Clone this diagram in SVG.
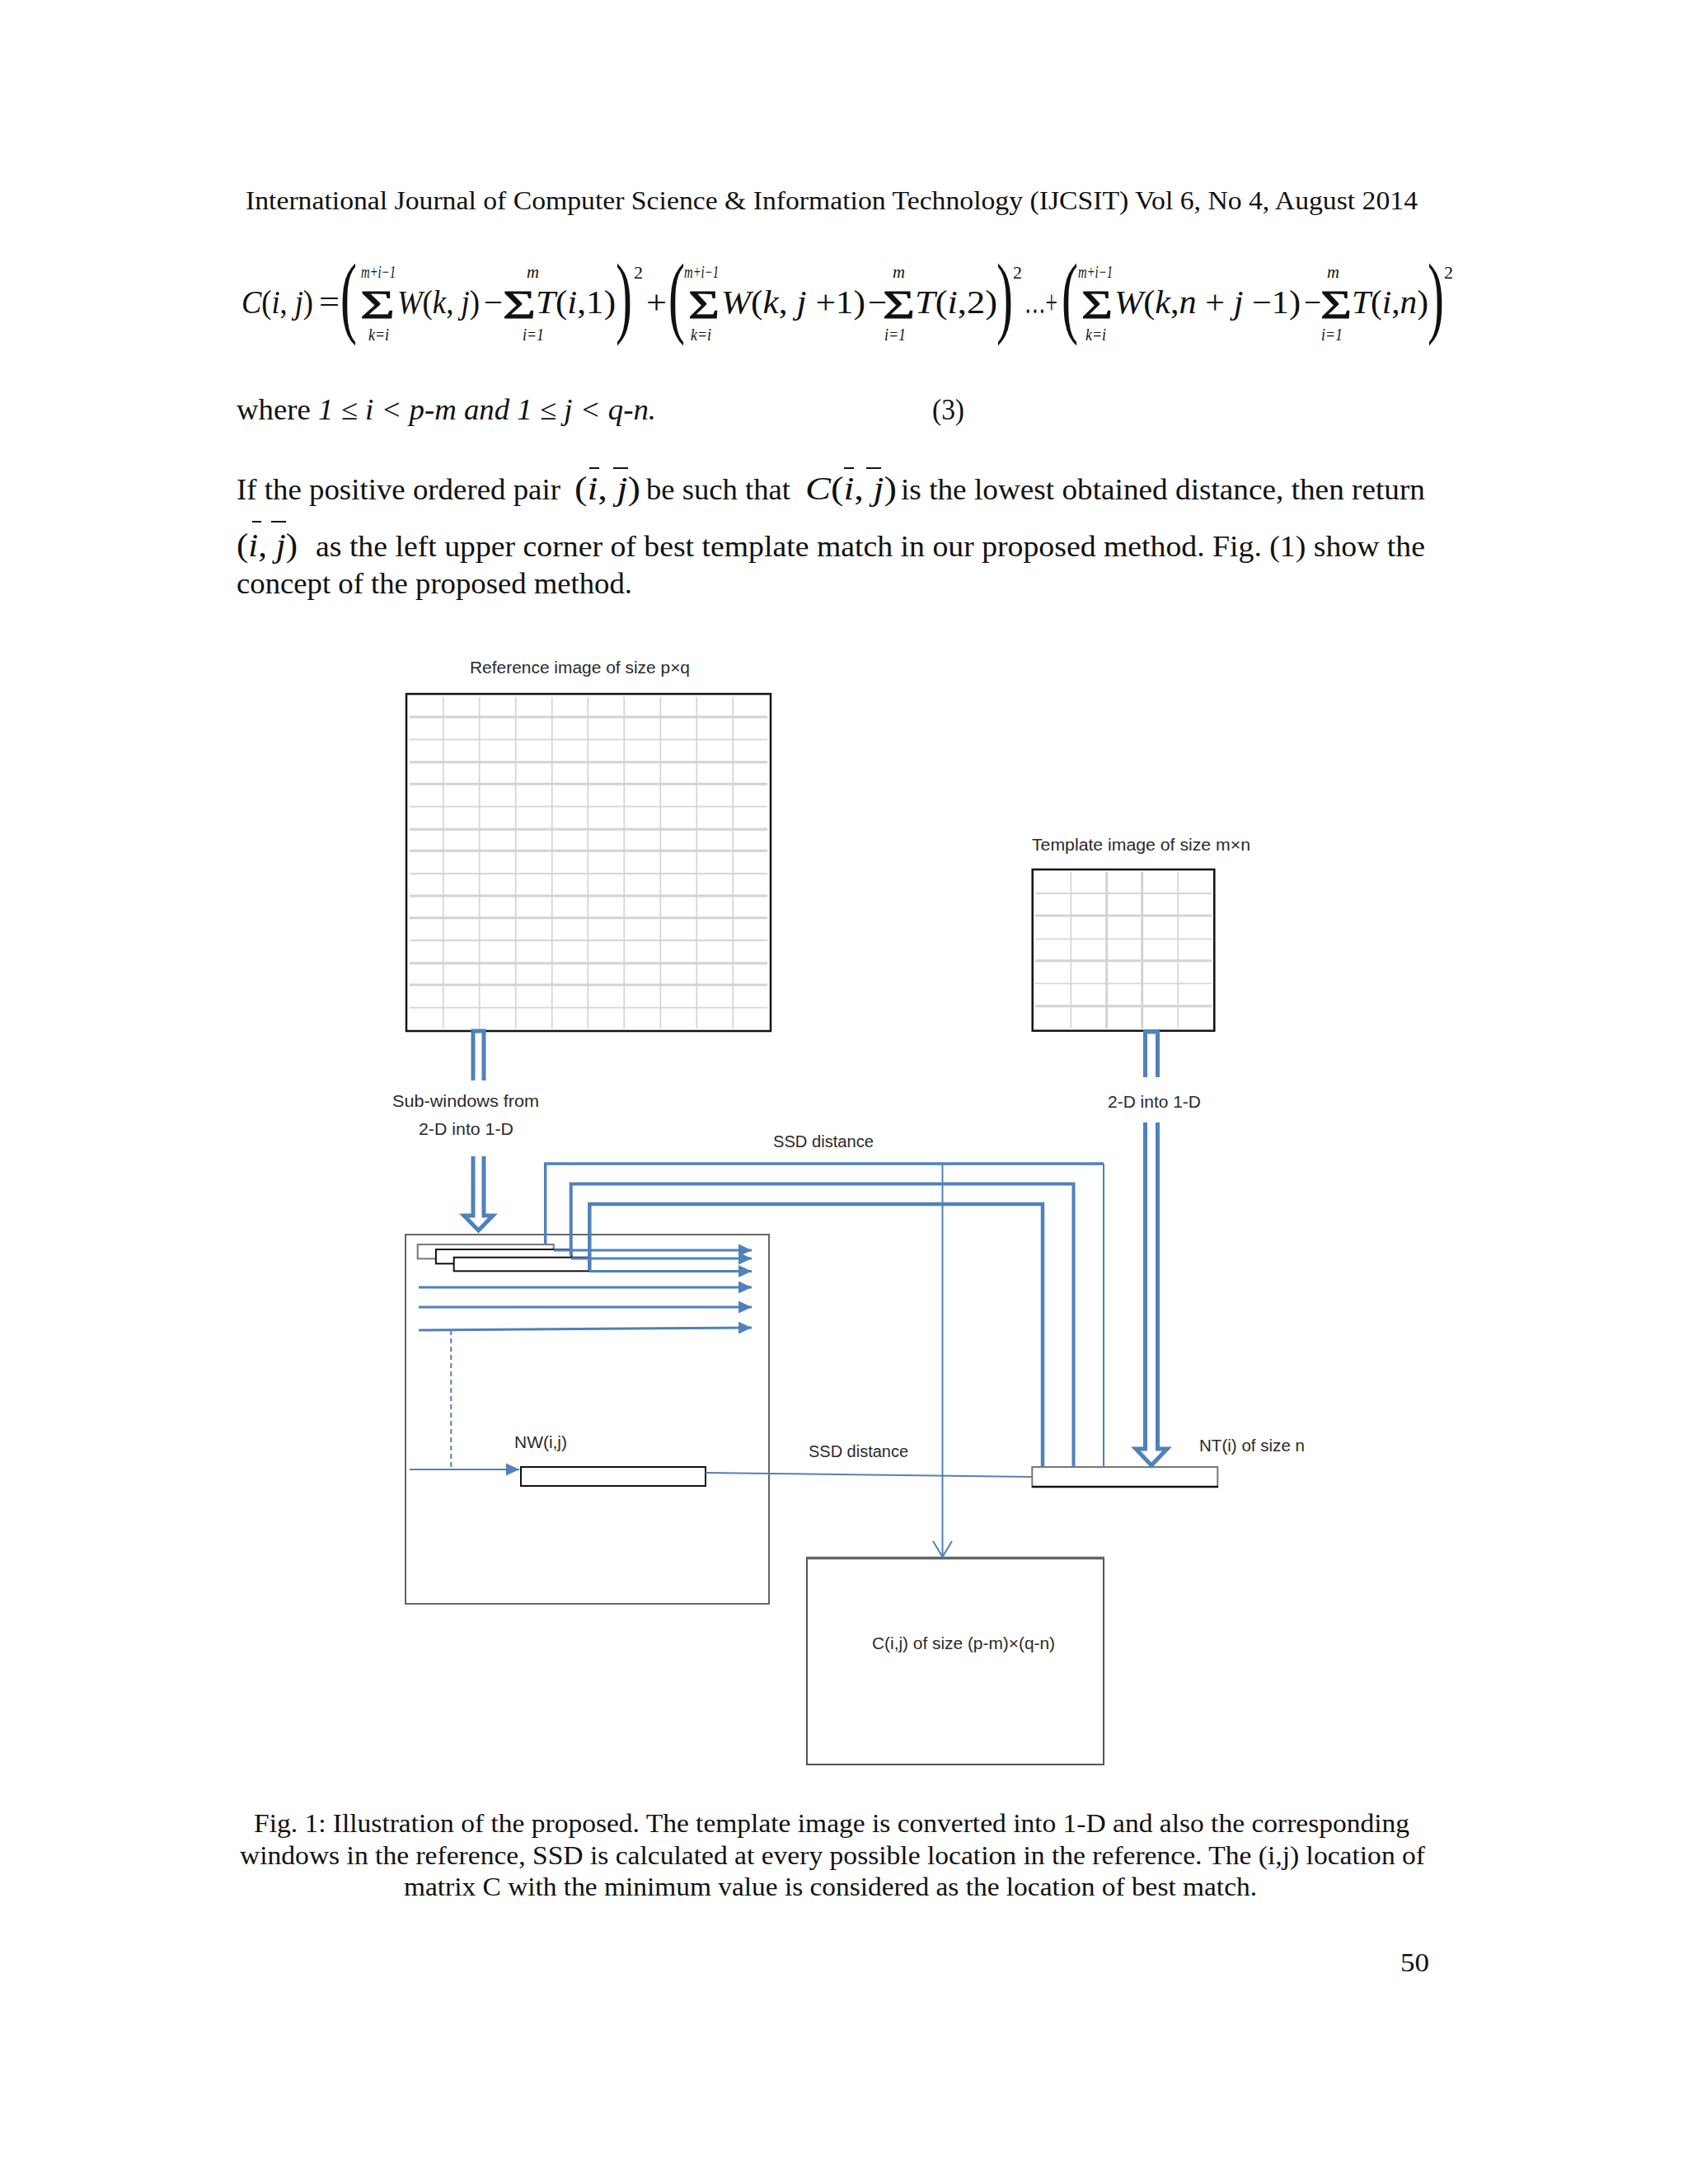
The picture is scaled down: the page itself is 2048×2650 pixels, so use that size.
<svg xmlns="http://www.w3.org/2000/svg" width="2048" height="2650" viewBox="0 0 2048 2650">
<style>
.serif{font-family:"Liberation Serif","Times New Roman",serif;fill:#111}
.hdr{font-size:31px}
.body{font-size:35px}
.cap{font-size:32px}
.m{font-family:"Liberation Serif","Times New Roman",serif;font-size:40px;fill:#111}
.it{font-style:italic}
.lim{font-family:"Liberation Serif","Times New Roman",serif;font-size:21px;font-style:italic;fill:#111}
.sig{font-family:"Liberation Serif","Times New Roman",serif;font-size:48px;fill:#111;stroke:#111;stroke-width:0.8}
.bp{font-family:"Liberation Serif","Times New Roman",serif;font-size:60px;fill:#111}
.sq{font-family:"Liberation Serif","Times New Roman",serif;font-size:22px;fill:#111}
.lbl{font-family:"Liberation Sans",Arial,sans-serif;font-size:20.5px;fill:#2a2a2a}
.gthk{stroke:#d3d3d3;stroke-width:3}
.gthn{stroke:#d6d6d6;stroke-width:1.8}
.blue{stroke:#4F81BD;fill:none}
.hollow{stroke:#4F81BD;stroke-width:5;fill:#fff}
.bar{stroke:#111;stroke-width:2}
</style>
<defs>
<marker id="tri" markerUnits="userSpaceOnUse" markerWidth="18" markerHeight="18" refX="16" refY="8" orient="auto">
<path d="M0,0.5 L16,8 L0,15.5 Z" fill="#4F81BD"/>
</marker>
</defs>
<rect width="2048" height="2650" fill="#fff"/>

<!-- header -->
<text class="serif hdr" x="298" y="254" textLength="1422" lengthAdjust="spacingAndGlyphs">International Journal of Computer Science &amp; Information Technology (IJCSIT) Vol 6, No 4, August 2014</text>

<!-- equation -->
<g id="equation">
<text class="m" x="293" y="380" textLength="87" lengthAdjust="spacingAndGlyphs"><tspan class="it">C</tspan>(<tspan class="it">i</tspan>, <tspan class="it">j</tspan>)</text>
<text class="m" x="387" y="380" textLength="25" lengthAdjust="spacingAndGlyphs">=</text>
<text class="bp" transform="translate(413,395.7) scale(1,1.82)">(</text>
<text class="sig" x="437" y="386" textLength="42" lengthAdjust="spacingAndGlyphs">Σ</text>
<text class="lim" x="438" y="337" textLength="42" lengthAdjust="spacingAndGlyphs">m+i−1</text>
<text class="lim" x="447" y="413" textLength="25" lengthAdjust="spacingAndGlyphs">k=i</text>
<text class="m" x="482" y="380" textLength="100" lengthAdjust="spacingAndGlyphs"><tspan class="it">W</tspan>(<tspan class="it">k</tspan>, <tspan class="it">j</tspan>)</text>
<text class="m" x="587" y="380" textLength="23" lengthAdjust="spacingAndGlyphs">−</text>
<text class="sig" x="610" y="386" textLength="40" lengthAdjust="spacingAndGlyphs">Σ</text>
<text class="lim" x="639" y="337" textLength="15" lengthAdjust="spacingAndGlyphs">m</text>
<text class="lim" x="634" y="413" textLength="26" lengthAdjust="spacingAndGlyphs">i=1</text>
<text class="m" x="650" y="380" textLength="97" lengthAdjust="spacingAndGlyphs"><tspan class="it">T</tspan>(<tspan class="it">i</tspan>,1)</text>
<text class="bp" transform="translate(747,395.7) scale(1,1.82)">)</text>
<text class="sq" x="769" y="338">2</text>
<text class="m" x="784" y="380" textLength="25" lengthAdjust="spacingAndGlyphs">+</text>
<text class="bp" transform="translate(811,395.7) scale(1,1.82)">(</text>
<text class="sig" x="835" y="386" textLength="38" lengthAdjust="spacingAndGlyphs">Σ</text>
<text class="lim" x="830" y="337" textLength="42" lengthAdjust="spacingAndGlyphs">m+i−1</text>
<text class="lim" x="838" y="413" textLength="25" lengthAdjust="spacingAndGlyphs">k=i</text>
<text class="m" x="875" y="380" textLength="175" lengthAdjust="spacingAndGlyphs"><tspan class="it">W</tspan>(<tspan class="it">k</tspan>, <tspan class="it">j</tspan> +1)</text>
<text class="m" x="1053" y="380" textLength="23" lengthAdjust="spacingAndGlyphs">−</text>
<text class="sig" x="1071" y="386" textLength="39" lengthAdjust="spacingAndGlyphs">Σ</text>
<text class="lim" x="1083" y="337" textLength="15" lengthAdjust="spacingAndGlyphs">m</text>
<text class="lim" x="1073" y="413" textLength="26" lengthAdjust="spacingAndGlyphs">i=1</text>
<text class="m" x="1110" y="380" textLength="100" lengthAdjust="spacingAndGlyphs"><tspan class="it">T</tspan>(<tspan class="it">i</tspan>,2)</text>
<text class="bp" transform="translate(1209,395.7) scale(1,1.82)">)</text>
<text class="sq" x="1229" y="338">2</text>
<text class="m" x="1243" y="380" textLength="40" lengthAdjust="spacingAndGlyphs">…+</text>
<text class="bp" transform="translate(1288,395.7) scale(1,1.82)">(</text>
<text class="sig" x="1312" y="386" textLength="38" lengthAdjust="spacingAndGlyphs">Σ</text>
<text class="lim" x="1308" y="337" textLength="42" lengthAdjust="spacingAndGlyphs">m+i−1</text>
<text class="lim" x="1317" y="413" textLength="25" lengthAdjust="spacingAndGlyphs">k=i</text>
<text class="m" x="1352" y="380" textLength="226" lengthAdjust="spacingAndGlyphs"><tspan class="it">W</tspan>(<tspan class="it">k</tspan>,<tspan class="it">n</tspan> + <tspan class="it">j</tspan> −1)</text>
<text class="m" x="1582" y="380" textLength="21" lengthAdjust="spacingAndGlyphs">−</text>
<text class="sig" x="1602" y="386" textLength="38" lengthAdjust="spacingAndGlyphs">Σ</text>
<text class="lim" x="1610" y="337" textLength="15" lengthAdjust="spacingAndGlyphs">m</text>
<text class="lim" x="1603" y="413" textLength="26" lengthAdjust="spacingAndGlyphs">i=1</text>
<text class="m" x="1640" y="380" textLength="93" lengthAdjust="spacingAndGlyphs"><tspan class="it">T</tspan>(<tspan class="it">i</tspan>,<tspan class="it">n</tspan>)</text>
<text class="bp" transform="translate(1732,395.7) scale(1,1.82)">)</text>
<text class="sq" x="1752" y="338">2</text>
</g>

<!-- paragraph -->
<g id="paragraph">
<text class="serif body" x="287" y="509" textLength="509" lengthAdjust="spacingAndGlyphs">where <tspan class="it">1 ≤ i &lt; p-m and 1 ≤ j &lt; q-n.</tspan></text>
<text class="serif body" x="1131" y="509" textLength="39" lengthAdjust="spacingAndGlyphs">(3)</text>

<text class="serif body" x="287" y="606" textLength="393" lengthAdjust="spacingAndGlyphs">If the positive ordered pair</text>
<text class="m" x="697" y="606" textLength="80" lengthAdjust="spacingAndGlyphs">(<tspan class="it">i</tspan>, <tspan class="it">j</tspan>)</text>
<line class="bar" x1="715" y1="568" x2="727" y2="568"/>
<line class="bar" x1="744" y1="568" x2="762" y2="568"/>
<text class="serif body" x="784" y="606" textLength="175" lengthAdjust="spacingAndGlyphs">be such that</text>
<text class="m" x="977" y="606" textLength="111" lengthAdjust="spacingAndGlyphs"><tspan class="it">C</tspan>(<tspan class="it">i</tspan>, <tspan class="it">j</tspan>)</text>
<line class="bar" x1="1024" y1="568" x2="1036" y2="568"/>
<line class="bar" x1="1051" y1="568" x2="1069" y2="568"/>
<text class="serif body" x="1093" y="606" textLength="636" lengthAdjust="spacingAndGlyphs">is the lowest obtained distance, then return</text>

<text class="m" x="287" y="675" textLength="74" lengthAdjust="spacingAndGlyphs">(<tspan class="it">i</tspan>, <tspan class="it">j</tspan>)</text>
<line class="bar" x1="306" y1="633" x2="317" y2="633"/>
<line class="bar" x1="329" y1="633" x2="347" y2="633"/>
<text class="serif body" x="383" y="675" textLength="1346" lengthAdjust="spacingAndGlyphs">as the left upper corner of best template match in our proposed method. Fig. (1) show the</text>
<text class="serif body" x="287" y="720" textLength="480" lengthAdjust="spacingAndGlyphs">concept of the proposed method.</text>
</g>

<!-- reference image -->
<g id="reference-image">
<text class="lbl" x="570" y="817" textLength="267" lengthAdjust="spacingAndGlyphs">Reference image of size p×q</text>
<g class="gthn">
<line x1="537.7" y1="846" x2="537.7" y2="1248"/><line x1="581.7" y1="846" x2="581.7" y2="1248"/>
<line x1="625.7" y1="846" x2="625.7" y2="1248"/><line x1="669.7" y1="846" x2="669.7" y2="1248"/>
<line x1="713.3" y1="846" x2="713.3" y2="1248"/><line x1="757.3" y1="846" x2="757.3" y2="1248"/>
<line x1="801.3" y1="846" x2="801.3" y2="1248"/><line x1="845.3" y1="846" x2="845.3" y2="1248"/>
<line x1="889.3" y1="846" x2="889.3" y2="1248"/>
<line x1="497" y1="897.3" x2="931" y2="897.3"/><line x1="497" y1="978.7" x2="931" y2="978.7"/>
<line x1="497" y1="1060" x2="931" y2="1060"/><line x1="497" y1="1141" x2="931" y2="1141"/>
<line x1="497" y1="1222.7" x2="931" y2="1222.7"/>
</g>
<g class="gthk">
<line x1="497" y1="870" x2="931" y2="870"/><line x1="497" y1="924.7" x2="931" y2="924.7"/>
<line x1="497" y1="951.3" x2="931" y2="951.3"/><line x1="497" y1="1006.3" x2="931" y2="1006.3"/>
<line x1="497" y1="1032.3" x2="931" y2="1032.3"/><line x1="497" y1="1087" x2="931" y2="1087"/>
<line x1="497" y1="1113.7" x2="931" y2="1113.7"/><line x1="497" y1="1168.7" x2="931" y2="1168.7"/>
<line x1="497" y1="1195" x2="931" y2="1195"/>
</g>
<rect x="493" y="842" width="442" height="409" fill="none" stroke="#111" stroke-width="2.5"/>
</g>

<!-- template image -->
<g id="template-image">
<text class="lbl" x="1252" y="1032" textLength="265" lengthAdjust="spacingAndGlyphs">Template image of size m×n</text>
<g class="gthn">
<line x1="1299.3" y1="1058" x2="1299.3" y2="1248"/><line x1="1429.3" y1="1058" x2="1429.3" y2="1248"/>
<line x1="1256" y1="1084" x2="1470" y2="1084"/><line x1="1256" y1="1139.3" x2="1470" y2="1139.3"/>
<line x1="1256" y1="1193.3" x2="1470" y2="1193.3"/>
</g>
<g class="gthk">
<line x1="1342.7" y1="1058" x2="1342.7" y2="1248"/><line x1="1385.7" y1="1058" x2="1385.7" y2="1248"/>
<line x1="1256" y1="1111" x2="1470" y2="1111"/><line x1="1256" y1="1165.7" x2="1470" y2="1165.7"/>
<line x1="1256" y1="1220.7" x2="1470" y2="1220.7"/>
</g>
<rect x="1252.7" y="1055" width="220.6" height="195.7" fill="none" stroke="#111" stroke-width="2.5"/>
</g>

<!-- sub-window box -->
<g id="subwindow-box">
<rect x="492" y="1498" width="441" height="448" fill="none" stroke="#666" stroke-width="2"/>
<rect x="506.7" y="1510" width="165" height="17.3" fill="#fff" stroke="#777" stroke-width="2"/>
<rect x="528.9" y="1516" width="164.5" height="17.3" fill="#fff" stroke="#111" stroke-width="2"/>
<rect x="550.7" y="1525.7" width="164.6" height="16.6" fill="#fff" stroke="#111" stroke-width="2"/>
</g>

<!-- NW vector -->
<g id="nw-vector">
<text class="lbl" x="624" y="1757" textLength="64" lengthAdjust="spacingAndGlyphs">NW(i,j)</text>
<rect x="632" y="1780" width="224" height="23" fill="#fff" stroke="#111" stroke-width="2"/>
</g>

<!-- NT vector -->
<g id="nt-vector">
<text class="lbl" x="1455" y="1761" textLength="128" lengthAdjust="spacingAndGlyphs">NT(i) of size n</text>
<rect x="1252.3" y="1780" width="225" height="24" fill="#fff" stroke="#777" stroke-width="2"/>
<line x1="1252" y1="1804" x2="1478" y2="1804" stroke="#111" stroke-width="2.5"/>
</g>

<!-- C matrix -->
<g id="c-matrix">
<rect x="979" y="1890" width="360" height="251" fill="none" stroke="#555" stroke-width="2"/>
<line x1="979" y1="1890.5" x2="1339" y2="1890.5" stroke="#666" stroke-width="3.5"/>
<text class="lbl" x="1058" y="2001" textLength="222" lengthAdjust="spacingAndGlyphs">C(i,j) of size (p-m)×(q-n)</text>
</g>

<!-- labels -->
<g id="labels">
<text class="lbl" x="476" y="1343" textLength="178" lengthAdjust="spacingAndGlyphs">Sub-windows from</text>
<text class="lbl" x="508" y="1377" textLength="115" lengthAdjust="spacingAndGlyphs">2-D into 1-D</text>
<text class="lbl" x="1344" y="1344" textLength="113" lengthAdjust="spacingAndGlyphs">2-D into 1-D</text>
<text class="lbl" x="938" y="1392" textLength="122" lengthAdjust="spacingAndGlyphs">SSD distance</text>
<text class="lbl" x="981" y="1768" textLength="121" lengthAdjust="spacingAndGlyphs">SSD distance</text>
</g>

<!-- connectors -->
<g id="connectors">
<path class="hollow" d="M574,1311 V1251 H587 V1311"/>
<path class="hollow" d="M574,1403 V1475 H563 L580.5,1493 L598,1475 H587 V1403"/>
<path class="hollow" d="M1389.5,1307 V1252 H1404.5 V1307"/>
<path class="hollow" d="M1389.5,1362 V1758 H1378 L1397,1778 L1416,1758 H1404.5 V1362"/>
<path class="blue" stroke-width="3.5" d="M661.7,1510 V1412 H1339"/>
<line class="blue" stroke-width="2" x1="1339" y1="1412" x2="1339" y2="1780"/>
<path class="blue" stroke-width="4" d="M692.7,1523 V1436.5 H1302.5 V1780"/>
<path class="blue" stroke-width="4.5" d="M715.3,1542 V1461 H1265 V1780"/>
<line class="blue" stroke-width="2" x1="1143.5" y1="1412" x2="1143.5" y2="1889"/>
<path class="blue" stroke-width="2" d="M1132,1870 L1143.5,1889 L1155,1870"/>
<g class="blue" stroke-width="3">
<line x1="672" y1="1517" x2="912" y2="1517" marker-end="url(#tri)"/>
<line x1="693" y1="1527" x2="912" y2="1527" marker-end="url(#tri)"/>
<line x1="715" y1="1542.5" x2="912" y2="1542.5" marker-end="url(#tri)"/>
<line x1="508" y1="1562" x2="912" y2="1562" marker-end="url(#tri)"/>
<line x1="508" y1="1586" x2="912" y2="1586" marker-end="url(#tri)"/>
<line x1="508" y1="1614" x2="912" y2="1611" marker-end="url(#tri)"/>
</g>
<line x1="547.3" y1="1614" x2="547.3" y2="1783" stroke="#5b7fb0" stroke-width="2" stroke-dasharray="6 4"/>
<line class="blue" stroke-width="2" x1="497" y1="1783" x2="630" y2="1783" marker-end="url(#tri)"/>
<line x1="856" y1="1787" x2="1252" y2="1792" stroke="#5b7fb0" stroke-width="2"/>
</g>

<!-- caption -->
<g id="caption">
<text class="serif cap" x="308" y="2223" textLength="1402" lengthAdjust="spacingAndGlyphs">Fig. 1: Illustration of the proposed. The template image is converted into 1-D and also the corresponding</text>
<text class="serif cap" x="291" y="2262" textLength="1438" lengthAdjust="spacingAndGlyphs">windows in the reference, SSD is calculated at every possible location in the reference. The (i,j) location of</text>
<text class="serif cap" x="490" y="2300" textLength="1035" lengthAdjust="spacingAndGlyphs">matrix C with the minimum value is considered as the location of best match.</text>
<text class="serif cap" x="1699" y="2392" textLength="35" lengthAdjust="spacingAndGlyphs">50</text>
</g>
</svg>
